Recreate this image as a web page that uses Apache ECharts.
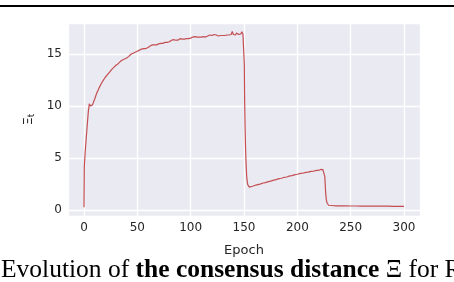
<!DOCTYPE html>
<html><head><meta charset="utf-8">
<script src="https://cdn.jsdelivr.net/npm/echarts@6/dist/echarts.min.js"></script>
<style>html,body{margin:0;padding:0;background:#fff;}#c{width:454px;height:282px;}</style>
</head><body><div id="c"></div>
<script>
// Epoch positions of the samples
const epochs = [
  0, 0.3, 1, 2, 3, 4, 5, 6, 7, 8, 9, 10, 11, 12, 13, 14, 15, 16, 17, 18, 19,
  20, 21, 22, 23, 24, 25, 26, 27, 28, 29, 30, 31, 32, 33, 34, 35, 36, 37, 38, 39,
  40, 41, 42, 43, 44, 45, 46, 47, 48, 49, 50, 51, 52, 53, 54, 55, 56, 57, 58, 59,
  60, 61, 62, 63, 64, 65, 66, 67, 68, 69, 70, 71, 72, 73, 74, 75, 76, 77, 78, 79,
  80, 81, 82, 83, 84, 85, 86, 87, 88, 89, 90, 91, 92, 93, 94, 95, 96, 97, 98, 99,
  100, 101, 102, 103, 104, 105, 106, 107, 108, 109, 110, 111, 112, 113, 114, 115, 116, 117, 118, 119,
  120, 121, 122, 123, 124, 125, 126, 127, 128, 129, 130, 131, 132, 133, 134, 135, 136, 137, 138, 139,
  140, 141, 142, 143, 144, 145, 146, 147, 148, 149, 150,
  150.3, 150.6, 151, 151.5, 152, 152.5, 153, 153.5, 154, 155,
  156, 158, 160, 162, 165, 168, 170, 173, 175, 178, 180, 183, 185, 188, 190,
  193, 195, 198, 200, 203, 205, 208, 210, 213, 215, 218, 220, 222, 224, 225.5,
  225.8, 226.2, 226.7, 227.2, 227.8, 228.5, 229.3, 230, 235, 240, 245, 250,
  255, 260, 265, 270, 275, 280, 285, 290, 295, 300
];
// Consensus distance Xi_t
const values = [
  0.3, 4.2, 5.4, 6.8, 8.1, 9.4, 10.2, 10.0, 10.15, 10.1, 10.4, 10.65, 10.95, 11.25, 11.45, 11.7, 11.9, 12.1, 12.2, 12.45, 12.5,
  12.75, 12.8, 13.0, 13.05, 13.25, 13.3, 13.5, 13.5, 13.7, 13.75, 13.9, 13.95, 14.05, 14.1, 14.25, 14.2, 14.4, 14.35, 14.5, 14.55,
  14.6, 14.7, 14.75, 14.8, 14.95, 14.9, 15.05, 15.0, 15.15, 15.2, 15.25, 15.2, 15.35, 15.3, 15.45, 15.4, 15.5, 15.55, 15.5, 15.65,
  15.6, 15.7, 15.75, 15.65, 15.85, 15.8, 15.85, 15.95, 15.85, 16.0, 15.95, 16.05, 16.0, 16.1, 16.0, 16.15, 16.1, 16.2, 16.1, 16.25,
  16.15, 16.2, 16.3, 16.2, 16.35, 16.25, 16.3, 16.4, 16.3, 16.35, 16.45, 16.35, 16.4, 16.5, 16.4, 16.5, 16.45, 16.55, 16.45, 16.6,
  16.5, 16.55, 16.6, 16.5, 16.65, 16.55, 16.6, 16.7, 16.6, 16.65, 16.6, 16.75, 16.65, 16.7, 16.6, 16.75, 16.7, 16.65, 16.8, 16.7,
  16.75, 16.7, 16.85, 16.7, 16.8, 16.75, 16.7, 16.85, 16.75, 16.8, 16.75, 16.9, 16.75, 16.85, 16.8, 16.9, 16.8, 16.95, 16.85, 17.15,
  16.85, 16.95, 16.8, 17.0, 17.05, 16.85, 17.0, 16.9, 17.1, 16.9, 16.95,
  14.0, 10.5, 8.0, 5.8, 4.3, 3.3, 2.75, 2.45, 2.3, 2.22,
  2.25, 2.3, 2.37, 2.43, 2.51, 2.61, 2.65, 2.75, 2.79, 2.89, 2.93, 3.03, 3.07, 3.16, 3.19,
  3.29, 3.32, 3.41, 3.45, 3.53, 3.55, 3.63, 3.65, 3.73, 3.74, 3.83, 3.83, 3.91, 3.9, 3.97,
  3.2, 2.3, 1.5, 1.0, 0.72, 0.56, 0.48, 0.45, 0.43, 0.42, 0.42, 0.41,
  0.41, 0.4, 0.4, 0.4, 0.39, 0.39, 0.39, 0.38, 0.38, 0.38
];
const xLabel = 'Epoch';
const caption = ['Evolution of ', 'the consensus distance', ' Ξ for R'];

const seriesData = epochs.map((e, i) => [e, values[i]]);
const tickColor = '#262626';
const chart = echarts.init(document.getElementById('c'), null, {renderer: 'canvas'});
chart.setOption({
  animation: false,
  backgroundColor: '#ffffff',
  grid: {left: 68, right: 34, top: 23, bottom: 66, show: true, backgroundColor: '#EAEAF2', borderWidth: 0},
  xAxis: {
    type: 'value', min: -15, max: 315, splitNumber: 5,
    name: xLabel, nameLocation: 'middle', nameGap: 28,
    nameTextStyle: {fontFamily: 'DejaVu Sans', fontSize: 13, color: tickColor},
    axisLine: {show: false}, axisTick: {show: false},
    axisLabel: {fontFamily: 'DejaVu Sans', fontSize: 12, color: tickColor, margin: 6, showMinLabel: false, showMaxLabel: false},
    splitLine: {show: true, lineStyle: {color: '#ffffff', width: 1.3}}
  },
  yAxis: {
    type: 'value', min: -0.55, max: 17.95, splitNumber: 4,
    name: '{m|Ξ}{s|t}', nameLocation: 'middle', nameGap: 30, nameRotate: 90,
    nameTextStyle: {fontFamily: 'DejaVu Sans', color: tickColor,
      rich: {m: {fontFamily: 'DejaVu Sans', fontSize: 13, color: tickColor},
             s: {fontFamily: 'DejaVu Sans', fontSize: 9, color: tickColor, padding: [6, 0, 0, 0]}}},
    axisLine: {show: false}, axisTick: {show: false},
    axisLabel: {fontFamily: 'DejaVu Sans', fontSize: 12, color: tickColor, margin: 6, showMinLabel: false, showMaxLabel: false},
    splitLine: {show: true, lineStyle: {color: '#ffffff', width: 1.3}}
  },
  series: [{
    type: 'line', data: seriesData, showSymbol: false, clip: true,
    lineStyle: {color: '#C44E52', width: 1.2}
  }],
  graphic: [
    {type: 'rect', shape: {x: 0, y: 5, width: 454, height: 2}, style: {fill: '#000'}},
    {type: 'text', x: 1, y: 283, style: {
      text: '{n|' + caption[0] + '}{b|' + caption[1] + '}{n|' + caption[2] + '}',
      verticalAlign: 'bottom', align: 'left',
      rich: {
        n: {fontFamily: 'Liberation Serif', fontSize: 25.5, fill: '#000'},
        b: {fontFamily: 'Liberation Serif', fontSize: 25.5, fontWeight: 'bold', fill: '#000'}
      }
    }}
  ]
});
</script></body></html>
